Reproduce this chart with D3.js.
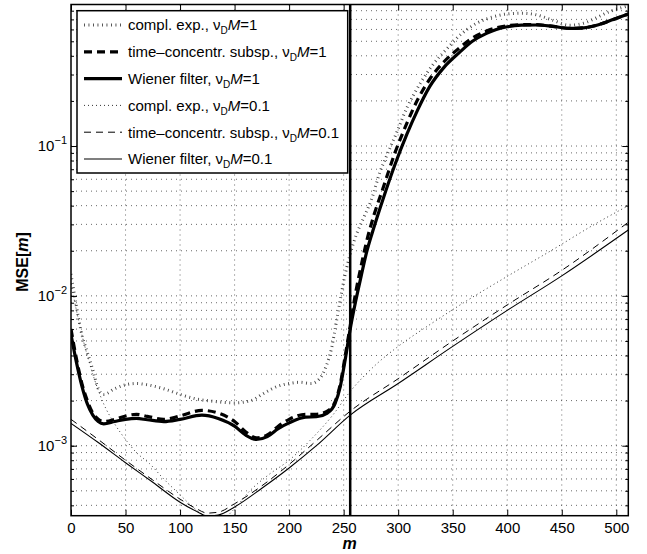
<!DOCTYPE html>
<html>
<head>
<meta charset="utf-8">
<script src="https://cdn.jsdelivr.net/npm/d3@7"></script>
<style>
  body { margin: 0; background: #fff; }
  svg { display: block; font-family: "Liberation Sans", Arial, Helvetica, sans-serif; }
</style>
</head>
<body>
<div id="chart"></div>
<script>
// sample positions m and MSE values
const mWienerHi = [0, 5, 10, 15, 20, 25, 30, 40, 50, 60, 70, 85, 100, 120, 135, 150, 160, 170, 180, 190, 200, 215, 225, 235, 242, 247, 251, 256, 261, 266, 271, 278, 286, 297, 308, 318, 329, 342, 356, 368, 381, 390, 400, 413, 427, 442, 457, 470, 482, 495, 511];
const wienerHi = [5.5e-3, 3.6e-3, 2.5e-3, 1.9e-3, 1.6e-3, 1.45e-3, 1.4e-3, 1.45e-3, 1.5e-3, 1.52e-3, 1.49e-3, 1.45e-3, 1.5e-3, 1.6e-3, 1.52e-3, 1.35e-3, 1.18e-3, 1.1e-3, 1.15e-3, 1.3e-3, 1.42e-3, 1.55e-3, 1.56e-3, 1.65e-3, 1.9e-3, 2.5e-3, 3.6e-3, 6.0e-3, 9.2e-3, 0.0135, 0.0195, 0.029, 0.044, 0.075, 0.12, 0.175, 0.25, 0.335, 0.42, 0.5, 0.565, 0.6, 0.625, 0.64, 0.642, 0.628, 0.61, 0.615, 0.64, 0.69, 0.76];

const mSubspHi = mWienerHi;
const subspHi = [6.0e-3, 3.8e-3, 2.6e-3, 2.0e-3, 1.65e-3, 1.5e-3, 1.45e-3, 1.5e-3, 1.58e-3, 1.62e-3, 1.57e-3, 1.5e-3, 1.58e-3, 1.72e-3, 1.65e-3, 1.45e-3, 1.24e-3, 1.13e-3, 1.18e-3, 1.35e-3, 1.5e-3, 1.62e-3, 1.62e-3, 1.7e-3, 1.95e-3, 2.6e-3, 3.8e-3, 6.3e-3, 0.0105, 0.0158, 0.023, 0.035, 0.052, 0.09, 0.142, 0.205, 0.28, 0.365, 0.45, 0.525, 0.585, 0.615, 0.635, 0.645, 0.645, 0.628, 0.61, 0.615, 0.64, 0.69, 0.76];

const mExpHi = [0, 5, 10, 15, 20, 25, 30, 40, 50, 60, 70, 85, 100, 115, 130, 150, 165, 175, 190, 200, 210, 220, 228, 234, 239, 243, 247, 251, 256, 262, 269, 276, 283, 290, 298, 308, 320, 332, 344, 358, 372, 385, 399, 413, 427, 442, 457, 470, 482, 494, 511];
const expHi = [0.014, 0.0085, 5.5e-3, 4.2e-3, 3.2e-3, 2.4e-3, 2.2e-3, 2.4e-3, 2.55e-3, 2.6e-3, 2.55e-3, 2.4e-3, 2.2e-3, 2.05e-3, 1.98e-3, 1.93e-3, 2.0e-3, 2.2e-3, 2.5e-3, 2.6e-3, 2.65e-3, 2.6e-3, 2.8e-3, 3.4e-3, 4.5e-3, 6.5e-3, 9.5e-3, 0.0135, 0.019, 0.026, 0.034, 0.045, 0.066, 0.088, 0.12, 0.18, 0.26, 0.35, 0.44, 0.56, 0.66, 0.72, 0.76, 0.77, 0.75, 0.69, 0.64, 0.66, 0.72, 0.79, 0.86];

const mExpLo = [0, 10, 20, 30, 40, 50, 60, 72, 85, 100, 110, 120, 130, 140, 150, 164, 180, 200, 220, 240, 256, 280, 300, 330, 360, 400, 440, 480, 511];
const expLo = [0.012, 5.5e-3, 3.0e-3, 1.9e-3, 1.4e-3, 1.1e-3, 9e-4, 7.6e-4, 6.0e-4, 4.7e-4, 4.0e-4, 3.5e-4, 3.25e-4, 3.3e-4, 3.8e-4, 5.0e-4, 6.3e-4, 8.0e-4, 1.1e-3, 1.6e-3, 2.3e-3, 3.5e-3, 4.6e-3, 6.5e-3, 9e-3, 0.0135, 0.02, 0.03, 0.04];

const mLo = [0, 25, 50, 75, 100, 115, 125, 135, 150, 175, 200, 225, 256, 300, 350, 400, 450, 511];
const subspLo = [1.5e-3, 1.1e-3, 8.0e-4, 5.9e-4, 4.4e-4, 3.8e-4, 3.55e-4, 3.6e-4, 4.1e-4, 5.4e-4, 7.5e-4, 1.08e-3, 1.7e-3, 2.8e-3, 5.0e-3, 8.7e-3, 0.0148, 0.031];
const wienerLo = [1.41e-3, 1.05e-3, 7.7e-4, 5.7e-4, 4.2e-4, 3.65e-4, 3.4e-4, 3.45e-4, 3.9e-4, 5.2e-4, 7.1e-4, 1.0e-3, 1.6e-3, 2.6e-3, 4.6e-3, 8e-3, 0.0136, 0.0275];

const xTicks = [0, 50, 100, 150, 200, 250, 300, 350, 400, 450, 500];
const yTicks = [1e-3, 1e-2, 1e-1];
const markerM = 256;

const legendLabels = [
  ["compl. exp., ", "1"],
  ["time\u2013concentr. subsp., ", "1"],
  ["Wiener filter, ", "1"],
  ["compl. exp., ", "0.1"],
  ["time\u2013concentr. subsp., ", "0.1"],
  ["Wiener filter, ", "0.1"]
];

const series = [
  { m: mExpHi, v: expHi, w: 3, dash: "0.9,3.6", color: "#444" },
  { m: mSubspHi, v: subspHi, w: 3.2, dash: "8,5", color: "#000" },
  { m: mWienerHi, v: wienerHi, w: 3.2, dash: null, color: "#000" },
  { m: mExpLo, v: expLo, w: 1, dash: "1,3", color: "#333" },
  { m: mLo, v: subspLo, w: 1, dash: "7,5", color: "#000" },
  { m: mLo, v: wienerLo, w: 1.1, dash: null, color: "#000" }
];

const W = 647, H = 554;
const margin = { top: 4.5, right: 18.7, bottom: 38.3, left: 71 };
const width = W - margin.left - margin.right;
const height = H - margin.top - margin.bottom;

const svg = d3.select("#chart").append("svg")
  .attr("width", W)
  .attr("height", H);

const g = svg.append("g")
  .attr("transform", `translate(${margin.left},${margin.top})`);

const x = d3.scaleLinear().domain([0, 511]).range([0, width]);
const y = d3.scaleLog().domain([3.411e-4, 0.88]).range([height, 0]);

// minor log positions inside the domain
const yMinor = [];
for (let e = -4; e <= 0; e++) {
  for (let k = 1; k <= 9; k++) {
    const v = k * Math.pow(10, e);
    if (v >= y.domain()[0] && v <= y.domain()[1]) yMinor.push(v);
  }
}

// grid
g.append("g").selectAll("line")
  .data(xTicks.filter(d => d > 0))
  .enter().append("line")
  .attr("x1", d => x(d)).attr("x2", d => x(d))
  .attr("y1", 0).attr("y2", height)
  .attr("stroke", "#444").attr("stroke-width", 0.8)
  .attr("stroke-dasharray", "1,4");

g.append("g").selectAll("line")
  .data(yMinor)
  .enter().append("line")
  .attr("x1", 0).attr("x2", width)
  .attr("y1", d => y(d)).attr("y2", d => y(d))
  .attr("stroke", "#444").attr("stroke-width", 0.8)
  .attr("stroke-dasharray", "1,4");

// curves
g.append("clipPath").attr("id", "clip")
  .append("rect").attr("width", width).attr("height", height);

const line = d3.line()
  .x(d => x(d[0]))
  .y(d => y(d[1]))
  .curve(d3.curveMonotoneX);

const curves = g.append("g").attr("clip-path", "url(#clip)");
series.forEach(s => {
  curves.append("path")
    .datum(s.m.map((m, i) => [m, s.v[i]]))
    .attr("fill", "none")
    .attr("stroke", s.color)
    .attr("stroke-width", s.w)
    .attr("stroke-dasharray", s.dash)
    .attr("d", line);
});

curves.append("line")
  .attr("x1", x(markerM)).attr("x2", x(markerM))
  .attr("y1", 0).attr("y2", height)
  .attr("stroke", "#000").attr("stroke-width", 2.5);

// axes, ticks pointing inward
const fontSize = 15;

const xAxis = g.append("g")
  .attr("transform", `translate(0,${height})`)
  .call(d3.axisBottom(x).tickValues(xTicks).tickSize(-6).tickPadding(7));
xAxis.selectAll("text").attr("font-size", fontSize).attr("fill", "#000").attr("font-family", null);

g.append("g")
  .call(d3.axisTop(x).tickValues(xTicks).tickSize(-6).tickFormat(""));

const yAxis = g.append("g")
  .call(d3.axisLeft(y).tickValues(yTicks).tickSize(-6).tickPadding(4));
yAxis.selectAll("text")
  .attr("font-size", fontSize).attr("fill", "#000").attr("font-family", null)
  .each(function (d) {
    const t = d3.select(this).text(null);
    t.append("tspan").text("10");
    t.append("tspan").attr("dy", -7).attr("font-size", 11)
      .text("\u2212" + Math.round(-Math.log10(d)));
  });

g.append("g")
  .call(d3.axisLeft(y).tickValues(yMinor).tickSize(-3).tickFormat(""));

g.append("g")
  .attr("transform", `translate(${width},0)`)
  .call(d3.axisRight(y).tickValues(yTicks).tickSize(-6).tickFormat(""));
g.append("g")
  .attr("transform", `translate(${width},0)`)
  .call(d3.axisRight(y).tickValues(yMinor).tickSize(-3).tickFormat(""));

g.selectAll(".domain").remove();
g.selectAll(".tick line").attr("stroke", "#000").attr("stroke-width", 1);

g.append("rect")
  .attr("width", width).attr("height", height)
  .attr("fill", "none").attr("stroke", "#000").attr("stroke-width", 1.5);

// axis labels
svg.append("text")
  .attr("x", margin.left + width / 2)
  .attr("y", H - 5)
  .attr("text-anchor", "middle")
  .attr("font-size", 16).attr("font-weight", "bold").attr("font-style", "italic")
  .text("m");

const yl = svg.append("text")
  .attr("transform", "translate(28,262) rotate(-90)")
  .attr("text-anchor", "middle")
  .attr("font-size", 16).attr("font-weight", "bold");
yl.append("tspan").text("MSE[");
yl.append("tspan").attr("font-style", "italic").text("m");
yl.append("tspan").text("]");

// legend
const lg = svg.append("g").attr("transform", "translate(77,10.7)");
const lgW = 270.7, lgH = 162.3, rowH = 26.8;
lg.append("rect")
  .attr("width", lgW).attr("height", lgH)
  .attr("fill", "#fff").attr("stroke", "#000").attr("stroke-width", 1.5);

legendLabels.forEach((lab, i) => {
  const cy = 14.3 + i * rowH;
  const s = series[i];
  lg.append("line")
    .attr("x1", 7).attr("x2", 45)
    .attr("y1", cy).attr("y2", cy)
    .attr("stroke", s.color)
    .attr("stroke-width", s.w)
    .attr("stroke-dasharray", s.dash);
  const t = lg.append("text")
    .attr("x", 51).attr("y", cy + 5.5)
    .attr("font-size", fontSize);
  t.append("tspan").text(lab[0] + "\u03bd");
  t.append("tspan").attr("dy", 4).attr("font-size", 10).text("D");
  t.append("tspan").attr("dy", -4).attr("font-style", "italic").text("M");
  t.append("tspan").text("=" + lab[1]);
});
</script>
</body>
</html>
